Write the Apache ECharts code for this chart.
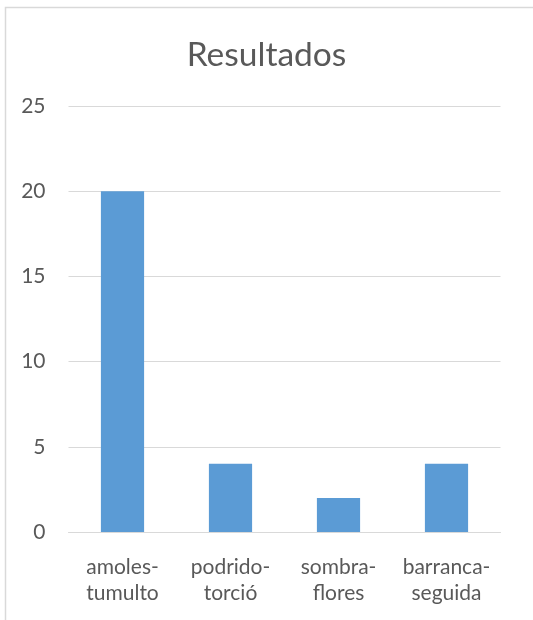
<!DOCTYPE html>
<html><head><meta charset="utf-8">
<script src="https://cdn.jsdelivr.net/npm/echarts@6/dist/echarts.min.js"></script>
<style>html,body{margin:0;padding:0;background:#fff}#c{width:533px;height:620px}</style>
</head><body><div id="c"></div>
<script>
const categories = ['amoles-\ntumulto', 'podrido-\ntorció', 'sombra-\nflores', 'barranca-\nseguida'];
const values = [20, 4, 2, 4];
const titleText = 'Resultados';
const FONT = 'Lato, "Open Sans", sans-serif';
const chart = echarts.init(document.getElementById('c'), null, {renderer: 'canvas'});
chart.setOption({
  animation: false,
  backgroundColor: '#fff',
  graphic: [{type: 'rect', shape: {x: 5.5, y: 7.5, width: 560, height: 640}, style: {fill: 'none', stroke: '#d9d9d9', lineWidth: 1.5}, z: -1}],
  title: {text: titleText, left: 'center', top: 33, textStyle: {fontFamily: FONT, fontSize: 33.5, fontWeight: 'normal', color: '#595959'}},
  grid: {left: 68.5, right: 32.5, top: 106, bottom: 88, containLabel: false},
  xAxis: {type: 'category', data: categories,
    axisLine: {show: true, lineStyle: {color: '#d9d9d9', width: 1}},
    axisTick: {show: false},
    axisLabel: {interval: 0, hideOverlap: false, fontFamily: FONT, fontSize: 21, color: '#595959', lineHeight: 26, margin: 22}},
  yAxis: {type: 'value', min: 0, max: 25, interval: 5,
    axisLine: {show: false}, axisTick: {show: false},
    splitLine: {lineStyle: {color: '#d9d9d9', width: 1}},
    axisLabel: {fontFamily: FONT, fontSize: 21, color: '#595959', margin: 23}},
  series: [{type: 'bar', data: values, barWidth: '40%', itemStyle: {color: '#5b9bd5'}}]
});
</script></body></html>
